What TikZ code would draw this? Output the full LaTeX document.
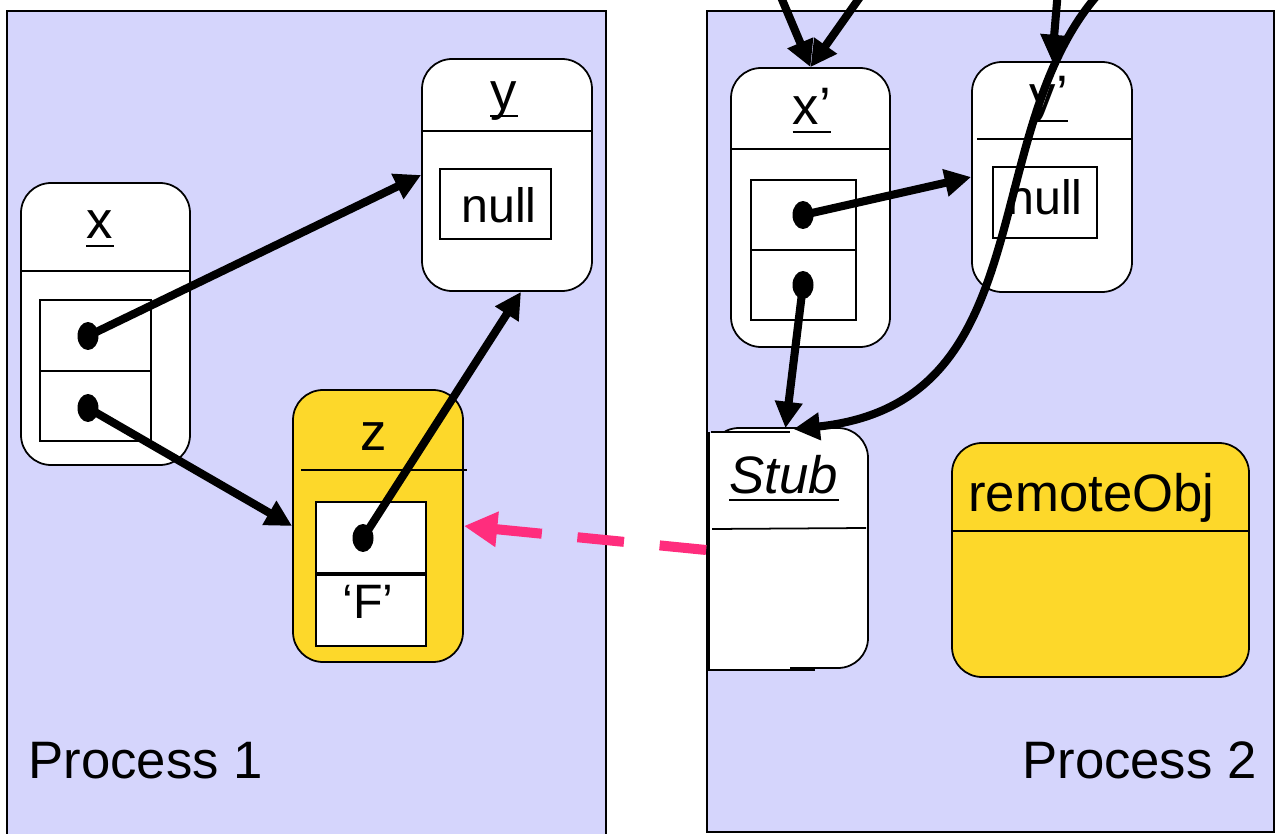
\documentclass[tikz,border=0pt]{standalone}
\usepackage{fontspec}
\setmainfont{Liberation Sans}
\usetikzlibrary{arrows.meta,shapes.geometric,fit,calc}
\definecolor{lav}{RGB}{213,213,252}
\definecolor{gold}{RGB}{253,216,42}
\definecolor{hotpink}{RGB}{255,45,125}
\begin{document}
\begin{tikzpicture}[x=0.02cm,y=-0.02cm,
  proc/.style={draw=black, line width=1pt, fill=lav, inner sep=0pt},
  obj/.style={draw=black, line width=1pt, fill=white, rounded corners=0.6cm, inner sep=0pt},
  cell/.style={draw=black, line width=1pt, fill=white, inner sep=0pt},
  hline/.style={draw=black, line width=1pt},
  lbl/.style={inner sep=0pt, anchor=base, font=\fontsize{30}{36}\selectfont},
  smalllbl/.style={inner sep=0pt, anchor=base, font=\fontsize{27.5}{32}\selectfont},
  uline/.style={line width=1.7pt},
  dot/.style={ellipse, fill=black, minimum width=0.42cm, minimum height=0.56cm, inner sep=0pt},
  ptr/.style={line width=4.6pt, -{Triangle[length=15pt,width=15pt]}},
  remote/.style={line width=5.7pt, hotpink, dash pattern=on 26.6pt off 20.4pt, -{Triangle[length=19pt,width=19pt]}}
]
\useasboundingbox (0,0) rectangle (1281,834);
\clip (0,0) rectangle (1281,834);

% processes
\node[proc, fit={(7,11) (606,860)}] (p1) {};
\node[proc, fit={(707,11) (1274,832)}] (p2) {};
\node[lbl, anchor=base west] (p1l) at (28,778) {Process 1};
\node[lbl, anchor=base east] (p2l) at (1257,778) {Process 2};

% object x
\node[obj, fit={(21,183) (190,465)}] (x) {};
\draw[hline] (21,271) -- (190,271);
\node[cell, fit={(40,300) (151,371)}] (xc1) {};
\node[cell, fit={(40,371) (151,441)}] (xc2) {};
\node[dot] (xd1) at (88,336) {};
\node[dot] (xd2) at (88,408) {};
\node[lbl] (xl) at (100,239) {x};
\draw[uline] ([yshift=-0.14cm]xl.base west) -- ([yshift=-0.14cm]xl.base east);

% object y
\node[obj, fit={(422,59) (592,291)}] (y) {};
\draw[hline] (422,131) -- (592,131);
\node[cell, fit={(440,169) (551,239)}] (yc) {};
\node[smalllbl] (yn) at (499,223) {null};
\node[lbl] (yl) at (504,110) {y};
\draw[uline] ([yshift=-0.12cm]yl.base west) -- ([yshift=-0.12cm]yl.base east);

% object z
\node[obj, fill=gold, fit={(293,390) (463,662)}] (z) {};
\draw[hline] (301,470) -- (467,470);
\node[cell, fit={(316,502) (426,573)}] (zc1) {};
\node[cell, fit={(316,575) (426,646)}] (zc2) {};
\node[dot] (zd) at (363,538) {};
\node[lbl] (zl) at (374,450) {z};
\node[smalllbl] (zf) at (368,618) {‘F’};

% object x'
\node[obj, fit={(731,68) (890,347)}] (xp) {};
\draw[hline] (731,149) -- (890,149);
\node[cell, fit={(751,180) (856,250)}] (xpc1) {};
\node[cell, fit={(751,250) (856,320)}] (xpc2) {};
\node[dot] (xpd1) at (803,215) {};
\node[dot] (xpd2) at (803,285) {};
\node[lbl] (xpl) at (812,125) {x’};
\draw[uline] ([yshift=-0.14cm]xpl.base west) -- ([yshift=-0.14cm]xpl.base east);

% object y'
\node[obj, fit={(972,62) (1132,292)}] (yp) {};
\draw[hline] (977,139) -- (1132,139);
\node[cell, fit={(993,167) (1097,238)}] (ypc) {};
\node[smalllbl] (ypn) at (1045,215) {null};
\node[lbl] (ypl) at (1049,113) {y’};
\draw[uline] ([yshift=-0.16cm]ypl.base west) -- ([yshift=-0.16cm]ypl.base east);

% stub
\node[obj, fit={(709,428) (868,668)}] (stub) {};
\fill[white] (710,433) rectangle (790,669);
\draw[hline] (711,432) -- (790,432);
\draw[hline] (709,432) -- (709,670);
\draw[hline] (707,670) -- (815,670);
\draw[hline] (712,529) -- (866,528);
\node[lbl, font=\fontsize{30}{36}\selectfont\itshape] (stubl) at (784,493) {Stub};
\draw[uline] ([yshift=-0.14cm]stubl.base west) -- ([yshift=-0.14cm]stubl.base east);

% remote object
\node[obj, fill=gold, fit={(952,443) (1249,677)}] (ro) {};
\draw[hline] (952,531) -- (1249,531);
\node[lbl, anchor=base west] (rol) at (968,511) {remoteObj};

% references
\draw[ptr] (xd1.center) -- (y.west);
\draw[ptr] (xd2.center) -- (z.west);
\draw[ptr] (zd.center) -- ($(y.south)+(14,0)$);
\draw[ptr] (xpd1.center) -- (yp.west);
\draw[ptr] (xpd2.center) -- ($(stub.north)+(-3,1)$);

\coordinate (in1) at (778,-10);
\coordinate (in2) at (865,-10);
\coordinate (in3) at (1058,-10);
\coordinate (in4) at (1101,-9);
\draw[ptr] (in1) -- (xp.north);
\draw[ptr] (in2) -- (xp.north);
\draw[ptr] (in3) -- (yp.north);
\draw[ptr] (in4) .. controls (975,130) and (1045,403) .. ($(stub.north)+(5,2)$);

\draw[remote] ($(stub.west)+(-2,2)$) -- (z.east);
\end{tikzpicture}
\end{document}
